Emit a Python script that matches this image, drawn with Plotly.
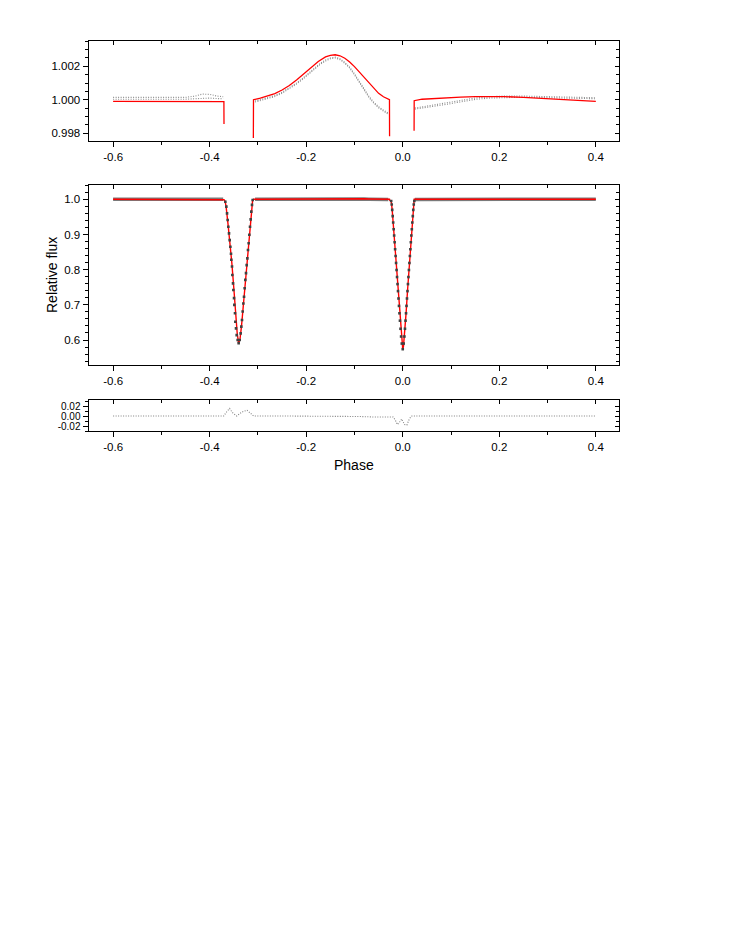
import plotly.graph_objects as go

# ---------------- data ----------------
# Out-of-eclipse segment A (phase -0.6 .. -0.37)
segA_phase = [-0.600, -0.560, -0.520, -0.480, -0.450, -0.430, -0.415, -0.400, -0.385, -0.372]
segA_obs_hi = [1.00014, 1.00013, 1.00014, 1.00013, 1.00014, 1.00022, 1.00034, 1.00032, 1.00022, 1.00018]
segA_obs_lo = [1.00003, 1.00002, 1.00003, 1.00002, 1.00003, 1.00006, 1.00010, 1.00010, 1.00007, 1.00006]
segA_model_phase = [-0.600, -0.500, -0.4000, -0.3705, -0.3703]
segA_model = [0.99990, 0.99990, 0.99990, 0.99989, 0.99855]

# Out-of-eclipse segment B (phase -0.31 .. -0.025)
segB_phase = [-0.306, -0.295, -0.280, -0.265, -0.250, -0.235, -0.220, -0.210, -0.200, -0.190,
              -0.180, -0.170, -0.160, -0.150, -0.140, -0.130, -0.120, -0.110, -0.100, -0.090,
              -0.080, -0.070, -0.060, -0.050, -0.040, -0.030]
segB_obs_hi = [0.99992, 1.00002, 1.00012, 1.00025, 1.00045, 1.00070, 1.00100, 1.00122, 1.00146, 1.00172,
               1.00198, 1.00220, 1.00238, 1.00250, 1.00255, 1.00245, 1.00224, 1.00195, 1.00155, 1.00108,
               1.00060, 1.00020, 0.99985, 0.99958, 0.99938, 0.99920]
segB_obs_lo = [0.99986, 0.99996, 1.00006, 1.00019, 1.00039, 1.00064, 1.00094, 1.00116, 1.00140, 1.00166,
               1.00192, 1.00214, 1.00232, 1.00245, 1.00250, 1.00240, 1.00218, 1.00189, 1.00149, 1.00102,
               1.00054, 1.00014, 0.99979, 0.99952, 0.99932, 0.99913]
segB_model_phase = [-0.3095, -0.3092, -0.295, -0.280, -0.265, -0.250, -0.235, -0.220, -0.205, -0.190,
                    -0.175, -0.160, -0.150, -0.140, -0.130, -0.120, -0.110, -0.100, -0.090, -0.080,
                    -0.070, -0.060, -0.050, -0.040, -0.032, -0.0275, -0.0273]
segB_model = [0.99771, 1.00000, 1.00010, 1.00022, 1.00037, 1.00058, 1.00085, 1.00118, 1.00155, 1.00193,
              1.00229, 1.00256, 1.00266, 1.00269, 1.00263, 1.00248, 1.00226, 1.00198, 1.00166, 1.00132,
              1.00097, 1.00064, 1.00038, 1.00018, 1.00006, 1.00000, 0.99781]

# Out-of-eclipse segment C (phase 0.025 .. 0.4)
segC_phase = [0.025, 0.040, 0.060, 0.090, 0.120, 0.150, 0.180, 0.210, 0.250, 0.300, 0.350, 0.400]
segC_obs_hi = [0.99950, 0.99957, 0.99965, 0.99980, 0.99995, 1.00010, 1.00018, 1.00022, 1.00022, 1.00018, 1.00014, 1.00012]
segC_obs_lo = [0.99944, 0.99950, 0.99958, 0.99972, 0.99987, 1.00002, 1.00010, 1.00014, 1.00015, 1.00012, 1.00008, 1.00006]
segC_model_phase = [0.0235, 0.0237, 0.040, 0.060, 0.090, 0.120, 0.150, 0.180, 0.210, 0.250, 0.300, 0.350, 0.400]
segC_model = [0.99814, 0.99994, 1.00003, 1.00007, 1.00012, 1.00016, 1.00018, 1.00020, 1.00019, 1.00014, 1.00006, 0.99998, 0.99990]

# Secondary eclipse (around phase -0.34): observed points
ecl2_phase = [-0.3675, -0.3654, -0.3640, -0.3627, -0.3613, -0.3599, -0.3585, -0.3571, -0.3558, -0.3551,
              -0.3537, -0.3530, -0.3516, -0.3509, -0.3495, -0.3489, -0.3475, -0.3468, -0.3454, -0.3440,
              -0.3420, -0.3399, -0.3378, -0.3358, -0.3344, -0.3330, -0.3316, -0.3302, -0.3288, -0.3275,
              -0.3261, -0.3247, -0.3233, -0.3219, -0.3206, -0.3192, -0.3178, -0.3164, -0.3150, -0.3137,
              -0.3123, -0.3109]
ecl2_flux = [0.993, 0.979, 0.960, 0.941, 0.922, 0.903, 0.884, 0.865, 0.845, 0.828,
             0.809, 0.785, 0.761, 0.742, 0.719, 0.700, 0.676, 0.652, 0.633, 0.614,
             0.600, 0.591, 0.600, 0.619, 0.638, 0.657, 0.681, 0.704, 0.723, 0.747,
             0.771, 0.790, 0.813, 0.832, 0.856, 0.875, 0.899, 0.922, 0.943, 0.965,
             0.984, 0.998]
ecl2_model_phase = [-0.3680, -0.3660, -0.3620, -0.3580, -0.3540, -0.3500, -0.3460, -0.3430, -0.3400,
                    -0.3370, -0.3340, -0.3300, -0.3260, -0.3220, -0.3180, -0.3140, -0.3110]
ecl2_model = [0.994, 0.980, 0.930, 0.878, 0.818, 0.748, 0.668, 0.620, 0.590,
              0.604, 0.640, 0.706, 0.771, 0.832, 0.899, 0.960, 0.997]

# Primary eclipse (around phase 0.0): observed points
ecl1_phase = [-0.0240, -0.0228, -0.0218, -0.0208, -0.0198, -0.0188, -0.0178, -0.0168, -0.0158, -0.0148,
              -0.0138, -0.0128, -0.0118, -0.0108, -0.0098, -0.0088, -0.0078, -0.0068, -0.0058, -0.0046,
              -0.0034, -0.0020, 0.0000, 0.0020, 0.0034, 0.0046, 0.0058, 0.0068, 0.0078, 0.0088,
              0.0098, 0.0108, 0.0118, 0.0128, 0.0138, 0.0148, 0.0158, 0.0168, 0.0178, 0.0188,
              0.0198, 0.0208, 0.0218, 0.0228, 0.0240]
ecl1_flux = [0.995, 0.985, 0.970, 0.952, 0.934, 0.915, 0.897, 0.878, 0.858, 0.839,
             0.819, 0.799, 0.779, 0.759, 0.739, 0.718, 0.697, 0.676, 0.655, 0.632,
             0.610, 0.590, 0.574, 0.590, 0.610, 0.632, 0.655, 0.676, 0.697, 0.718,
             0.739, 0.759, 0.779, 0.799, 0.819, 0.839, 0.858, 0.878, 0.897, 0.915,
             0.934, 0.952, 0.970, 0.985, 0.995]
ecl1_model_phase = [-0.0240, -0.0220, -0.0190, -0.0160, -0.0130, -0.0100, -0.0070, -0.0040, -0.0015, 0.0000,
                    0.0015, 0.0040, 0.0070, 0.0100, 0.0130, 0.0160, 0.0190, 0.0220]
ecl1_model = [0.995, 0.972, 0.918, 0.862, 0.803, 0.742, 0.678, 0.620, 0.582, 0.574,
              0.582, 0.620, 0.678, 0.742, 0.803, 0.862, 0.918, 0.972]

# Residuals (bottom panel)
resid_phase = [-0.600, -0.371, -0.365, -0.3586, -0.353, -0.347, -0.344, -0.340, -0.333, -0.3226,
               -0.317, -0.311, -0.309, -0.250, -0.150, -0.120, -0.090, -0.060, -0.030, -0.020,
               -0.0155, -0.011, -0.0055, -0.002, 0.0035, 0.0085, 0.0141, 0.019, 0.025, 0.400]
resid = [0.000, 0.000, 0.008, 0.015, 0.007, 0.001, 0.000, 0.003, 0.008, 0.0115,
         0.006, 0.001, 0.000, 0.000, 0.000, -0.001, -0.001, -0.002, -0.001, -0.002,
         -0.008, -0.017, -0.011, -0.006, -0.017, -0.018, -0.005, 0.000, 0.000, 0.000]

# Tick labels
x_tick_vals = [-0.6, -0.4, -0.2, 0.0, 0.2, 0.4]
x_tick_text = ["-0.6", "-0.4", "-0.2", "0.0", "0.2", "0.4"]
top_y_vals = [0.998, 1.000, 1.002]
top_y_text = ["0.998", "1.000", "1.002"]
mid_y_vals = [0.6, 0.7, 0.8, 0.9, 1.0]
mid_y_text = ["0.6", "0.7", "0.8", "0.9", "1.0"]
bot_y_vals = [-0.02, 0.0, 0.02]
bot_y_text = ["-0.02", "0.00", "0.02"]

# ---------------- build ----------------
PAGE_W, PAGE_H = 736, 952
OFF = 8                      # default body margin of the html page
W, H = PAGE_W - 2 * OFF, PAGE_H - 2 * OFF
RED = "#ff0000"
GRAY = "#8c8c8c"
FINE_DOT = "1px,1.5px"


def xdom(a, b):
    return [(a - OFF) / W, (b - OFF) / W]


def ydom(top, bottom):
    return [1 - (bottom - OFF) / H, 1 - (top - OFF) / H]


def px_x(a):
    return (a - OFF) / W


def px_y(b):
    return 1 - (b - OFF) / H


def join(*parts):
    out = []
    for i, p in enumerate(parts):
        if i:
            out.append(None)
        out.extend(p)
    return out


fig = go.Figure()

# ---- top panel (zoom on out-of-eclipse) ----
top_x = join(segA_phase, segB_phase, segC_phase)
fig.add_trace(go.Scatter(x=top_x, y=join(segA_obs_hi, segB_obs_hi, segC_obs_hi), mode="lines",
                         line=dict(color=GRAY, width=1.1, dash=FINE_DOT), xaxis="x", yaxis="y",
                         connectgaps=False, showlegend=False))
fig.add_trace(go.Scatter(x=top_x, y=join(segA_obs_lo, segB_obs_lo, segC_obs_lo), mode="lines",
                         line=dict(color=GRAY, width=1.1, dash=FINE_DOT), xaxis="x", yaxis="y",
                         connectgaps=False, showlegend=False))
fig.add_trace(go.Scatter(x=join(segA_model_phase, segB_model_phase, segC_model_phase),
                         y=join(segA_model, segB_model, segC_model), mode="lines",
                         line=dict(color=RED, width=1.3), xaxis="x", yaxis="y",
                         connectgaps=False, showlegend=False))

# ---- middle panel (full light curve) ----
fig.add_trace(go.Scatter(x=top_x, y=join(segA_obs_hi, segB_obs_hi, segC_obs_hi), mode="lines",
                         line=dict(color="#7a7a7a", width=3.5), xaxis="x2", yaxis="y2",
                         connectgaps=False, showlegend=False))
full_model_x = segA_model_phase + ecl2_model_phase + segB_model_phase + ecl1_model_phase + segC_model_phase
full_model_y = segA_model + ecl2_model + segB_model + ecl1_model + segC_model
fig.add_trace(go.Scatter(x=full_model_x, y=full_model_y, mode="lines",
                         line=dict(color=RED, width=1.4), xaxis="x2", yaxis="y2", showlegend=False))
fig.add_trace(go.Scatter(x=ecl2_phase + ecl1_phase, y=ecl2_flux + ecl1_flux, mode="markers",
                         marker=dict(color="#404040", size=2.6, symbol="square"),
                         xaxis="x2", yaxis="y2", showlegend=False))

# ---- bottom panel (residuals) ----
fig.add_trace(go.Scatter(x=resid_phase, y=resid, mode="lines",
                         line=dict(color="#808080", width=1.1, dash=FINE_DOT), xaxis="x3", yaxis="y3",
                         showlegend=False))

FONT = "Liberation Sans, Arial, sans-serif"
tickfont = dict(family=FONT, size=11.5, color="black")


def axis_style(**kw):
    d = dict(showline=True, linecolor="black", linewidth=1, mirror=False, ticks="outside",
             ticklen=5, tickwidth=1, tickcolor="black", showgrid=False, zeroline=False,
             tickfont=tickfont, automargin=False)
    d.update(kw)
    return d


def minor(dt, where="outside"):
    return dict(tickmode="linear", tick0=0, dtick=dt, ticks=where, ticklen=3,
                tickcolor="black", showgrid=False)


XR = [-0.651, 0.448]
XL, XRpx = 88.5, 619
panels = [  # (top px, bottom px, y range, y tick vals, y tick text, y minor, y font size)
    (41, 141, [0.99753, 1.003515], top_y_vals, top_y_text, 0.0005, 11.5),
    (185, 365, [0.529, 1.0406], mid_y_vals, mid_y_text, 0.02, 11.5),
    (400, 431, [-0.030, 0.032], bot_y_vals, bot_y_text, 0.01, 10),
]

layout = dict(
    width=W, height=H,
    margin=dict(l=0, r=0, t=0, b=0),
    paper_bgcolor="white", plot_bgcolor="white",
    showlegend=False,
)
for i, (tp, bt, yr, yv, yt, ymin, yfs) in enumerate(panels):
    n = i + 1
    xs = "" if n == 1 else str(n)
    # main (left / bottom) axes with labels
    layout["xaxis" + xs] = axis_style(domain=xdom(XL, XRpx), range=XR, anchor="y" + xs, tickmode="array",
                                      tickvals=x_tick_vals, ticktext=x_tick_text, minor=minor(0.1))
    layout["yaxis" + xs] = axis_style(domain=ydom(tp, bt), range=yr, anchor="x" + xs, tickmode="array",
                                      tickvals=yv, ticktext=yt, minor=minor(ymin),
                                      tickfont=dict(family=FONT, size=yfs, color="black"))
    # opposite (top / right) axes: ticks pointing inside, no labels
    ox = str(3 + n)
    oy = str(3 + n)
    layout["xaxis" + ox] = axis_style(domain=xdom(XL, XRpx), range=XR, anchor="y" + oy, overlaying="x" + xs,
                                      side="top", ticks="inside", ticklen=4, showticklabels=False,
                                      tickmode="array", tickvals=x_tick_vals, minor=minor(0.1, "inside"))
    layout["yaxis" + oy] = axis_style(domain=ydom(tp, bt), range=yr, anchor="x" + ox, overlaying="y" + xs,
                                      side="right", ticks="inside", ticklen=4, showticklabels=False,
                                      tickmode="array", tickvals=yv, minor=minor(ymin, "inside"))
    # empty trace so that the opposite-side axes are drawn
    fig.add_trace(go.Scatter(x=[], y=[], xaxis="x" + ox, yaxis="y" + oy, showlegend=False,
                             hoverinfo="skip"))

layout["annotations"] = [
    dict(text="Relative flux", xref="paper", yref="paper", x=px_x(52), y=px_y(275),
         textangle=-90, showarrow=False, font=dict(family=FONT, size=14, color="black"),
         xanchor="center", yanchor="middle"),
    dict(text="Phase", xref="paper", yref="paper", x=px_x(353.5), y=px_y(465),
         showarrow=False, font=dict(family=FONT, size=14, color="black"),
         xanchor="center", yanchor="middle"),
]
fig.update_layout(**layout)

fig.write_html("out.html")
